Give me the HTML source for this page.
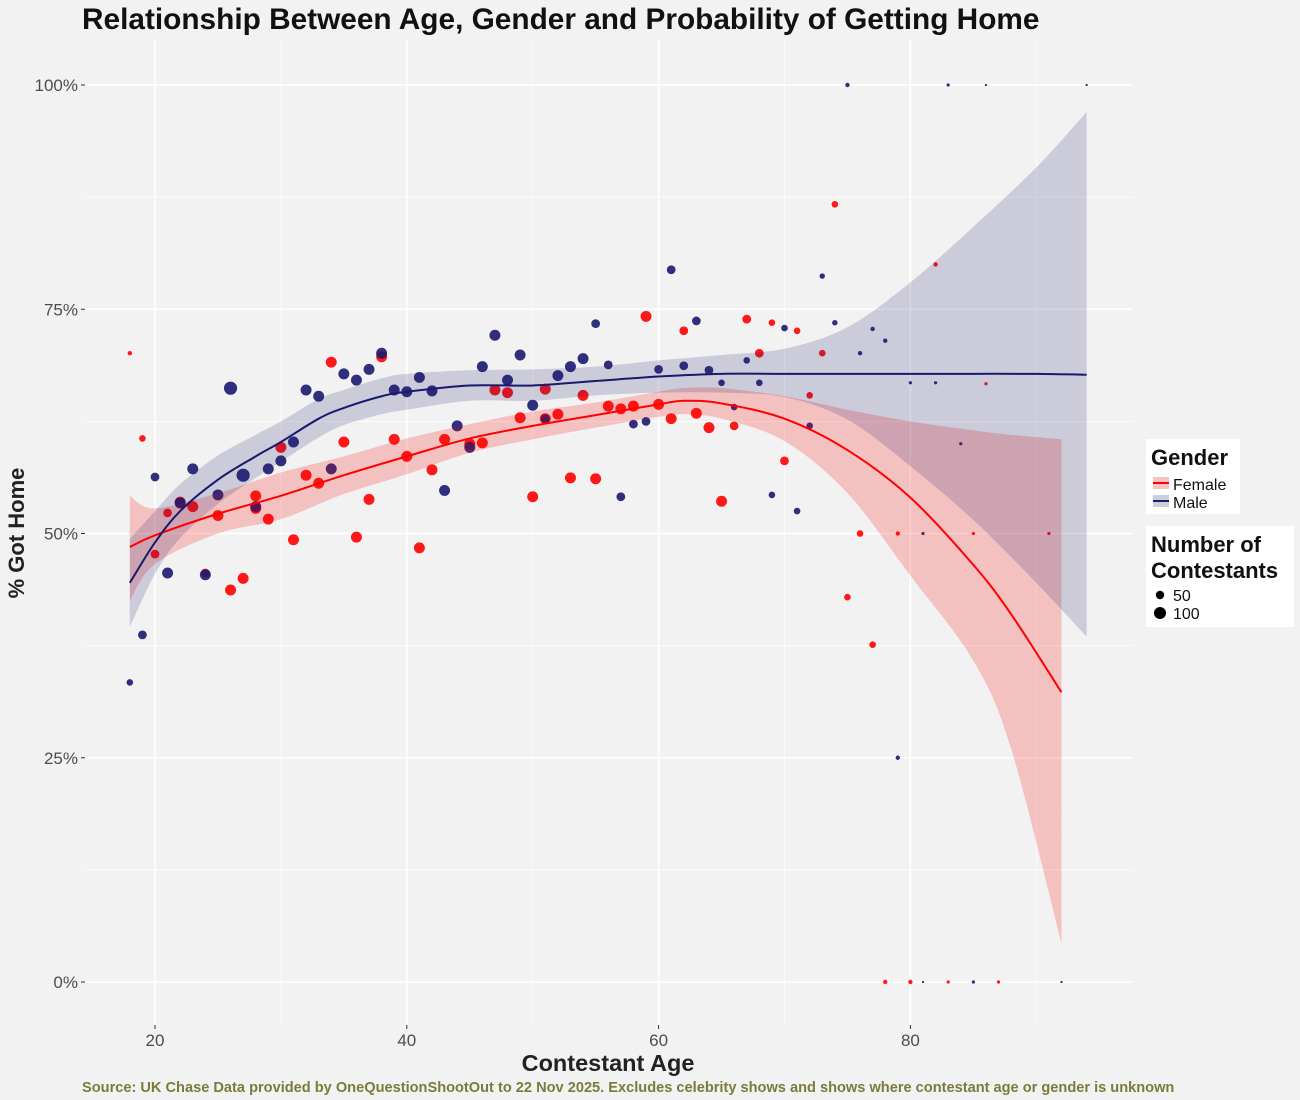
<!DOCTYPE html>
<html><head><meta charset="utf-8"><style>
html,body{margin:0;padding:0;background:#f2f2f2;}
svg{display:block;font-family:"Liberation Sans",Arial,sans-serif;}
</style></head><body>
<svg id="chart" width="1300" height="1100" viewBox="0 0 1300 1100">
<rect width="1300" height="1100" fill="#f2f2f2"/>
<text x="82" y="29" font-size="29.8" font-weight="bold" fill="#111">Relationship Between Age, Gender and Probability of Getting Home</text>
<g id="grid"></g>
<g id="points"></g>
<g id="ribbons"></g>
<g id="lines"></g>
<g id="axes"></g>
<text x="608" y="1071" font-size="23.5" font-weight="bold" text-anchor="middle" fill="#222">Contestant Age</text>
<text transform="translate(24,533) rotate(-90)" font-size="22" font-weight="bold" text-anchor="middle" fill="#222">% Got Home</text>
<text x="82" y="1092" font-size="14.6" font-weight="bold" fill="#7b7b3c">Source: UK Chase Data provided by OneQuestionShootOut to 22 Nov 2025. Excludes celebrity shows and shows where contestant age or gender is unknown</text>
<g>
<rect x="1146" y="439" width="94" height="75" fill="#fff"/>
<text x="1151" y="465" font-size="22" font-weight="bold" fill="#111">Gender</text>
<rect x="1153" y="477" width="16" height="12" fill="#f6c4c4"/><line x1="1153" y1="483" x2="1169" y2="483" stroke="#ff0000" stroke-width="2"/>
<text x="1173" y="490" font-size="16" fill="#111">Female</text>
<rect x="1153" y="495" width="16" height="12" fill="#ccced8"/><line x1="1153" y1="501" x2="1169" y2="501" stroke="#191970" stroke-width="2"/>
<text x="1173" y="508" font-size="16" fill="#111">Male</text>
</g>
<g>
<rect x="1146" y="526" width="148" height="101" fill="#fff"/>
<text x="1151" y="552" font-size="22" font-weight="bold" fill="#111">Number of</text>
<text x="1151" y="578" font-size="22" font-weight="bold" fill="#111">Contestants</text>
<circle cx="1160" cy="595" r="4.2" fill="#000"/><text x="1173" y="601" font-size="16" fill="#111">50</text>
<circle cx="1160" cy="613" r="6" fill="#000"/><text x="1173" y="619" font-size="16" fill="#111">100</text>
</g>
</svg>
<script>
const xTicks=[20,40,60,80];
const xMinor=[30,50,70,90];
const yTicks=[0,25,50,75,100];
const yTickLabels=["0%","25%","50%","75%","100%"];
const yMinor=[12.5,37.5,62.5,87.5];
const femAge=[18,19,20,21,22,23,24,25,26,27,28,28,29,30,31,32,33,34,35,36,37,38,39,40,41,42,43,45,46,47,48,49,50,51,51,52,53,54,55,56,57,58,59,60,61,62,63,64,65,66,67,68,69,70,71,72,73,74,75,76,77,78,79,80,82,83,85,86,87,91];
const femPct=[70.1,60.6,47.7,52.3,53.5,53,45.6,52,43.7,45,54.2,52.8,51.6,59.6,49.3,56.5,55.6,69.1,60.2,49.6,53.8,69.7,60.5,58.6,48.4,57.1,60.5,60,60.1,66,65.7,62.9,54.1,66.1,62.8,63.3,56.2,65.4,56.1,64.2,63.9,64.2,74.2,64.4,62.8,72.6,63.4,61.8,53.6,62,73.9,70.1,73.5,58.1,72.6,65.4,70.1,86.7,42.9,50,37.6,0,50,0,80,0,50,66.7,0,50];
const femN=[11,25,44,44,69,69,44,69,69,69,69,69,69,69,69,69,69,69,69,69,69,69,69,69,69,69,69,69,69,69,69,69,69,69,69,69,69,69,69,69,69,69,69,69,69,44,69,69,69,44,44,44,25,44,25,25,25,25,25,25,25,11,11,11,11,6,6,6,6,6];
const maleAge=[18,19,20,21,22,23,24,25,26,27,28,29,30,31,32,33,34,35,36,37,38,39,40,41,42,43,44,45,46,47,48,49,50,51,52,53,54,55,56,57,58,59,60,61,62,63,64,65,66,67,68,69,70,71,72,73,74,75,76,77,78,79,80,81,81,82,83,84,85,86,92,94];
const malePct=[33.4,38.7,56.3,45.6,53.4,57.2,45.4,54.3,66.2,56.5,53,57.2,58.1,60.2,66,65.3,57.2,67.8,67.1,68.3,70.1,66,65.8,67.4,65.9,54.8,62,59.6,68.6,72.1,67.1,69.9,64.3,62.8,67.6,68.6,69.5,73.4,68.8,54.1,62.2,62.5,68.3,79.4,68.7,73.7,68.2,66.8,64.1,69.3,66.8,54.3,72.9,52.5,62,78.7,73.5,100,70.1,72.8,71.5,25,66.8,50,0,66.8,100,60,0,100,0,100];
const maleN=[25,44,44,69,69,69,69,69,100,100,69,69,69,69,69,69,69,69,69,69,69,69,69,69,69,69,69,69,69,69,69,69,69,44,69,69,69,44,44,44,44,44,44,44,44,44,44,25,25,25,25,25,25,25,25,17,17,11,11,11,11,11,6,6,3,6,6,6,6,3,3,3];
const femSmAge=[18,20,25,30,35,40,45,50,55,60,62,65,70,75,80,85,88,92];
const femFit=[48.5,49.8,52.2,54.2,56.5,58.6,60.6,62,63.2,64.4,64.8,64.5,62.8,59.3,54,46.5,41,32.3];
const femLo=[42.5,46.6,50,51.6,54.4,56.6,59,60.5,61.8,63,63.3,62.8,60.3,54.5,45.3,35.8,26,4.3];
const femHi=[54.2,52.8,54.5,56.8,58.6,60.6,62.2,63.6,64.6,65.8,66.2,66.2,65.3,63.8,62.5,61.5,61,60.5];
const maleSmAge=[18,20,22,25,28,30,33,35,38,40,45,50,55,60,65,70,75,80,85,90,94];
const maleFit=[44.5,49,52.5,56,58.6,60.2,62.8,64,65.3,65.8,66.5,66.5,67,67.5,67.8,67.8,67.8,67.8,67.8,67.8,67.7];
const maleLo=[39.6,45.5,49.5,53.3,56.2,58,60.7,62.1,63.3,63.8,64.8,64.8,65.4,65.7,65.7,65.2,62.7,57.5,51.5,44.5,38.5];
const maleHi=[49.4,52.5,55.5,58.7,61,62.5,65,66,67.3,67.8,68.2,68.3,68.6,69.3,69.9,70.6,73,78,84.2,90.8,97];

const NS="http://www.w3.org/2000/svg";
const X=a=>155+(a-20)*12.59;
const Y=p=>982-p*8.97;
const R=n=>0.66*Math.sqrt(n);
function mk(tag,attrs,parent){const e=document.createElementNS(NS,tag);for(const k in attrs)e.setAttribute(k,attrs[k]);parent.appendChild(e);return e;}
const grid=document.getElementById('grid');
xMinor.forEach(v=>{const l=mk('line',{x1:X(v),x2:X(v),y1:40,y2:1025,stroke:'#fff','stroke-width':0.7},grid);

});
yMinor.forEach(v=>{const l=mk('line',{x1:85,x2:1133,y1:Y(v),y2:Y(v),stroke:'#fff','stroke-width':0.7},grid);

});
xTicks.forEach(v=>{const l=mk('line',{x1:X(v),x2:X(v),y1:40,y2:1025,stroke:'#fff','stroke-width':1.6},grid);

});
yTicks.forEach(v=>{const l=mk('line',{x1:85,x2:1133,y1:Y(v),y2:Y(v),stroke:'#fff','stroke-width':1.6},grid);

});
const axes=document.getElementById('axes');
xTicks.forEach(v=>{mk('line',{x1:X(v),x2:X(v),y1:1025,y2:1029,stroke:'#333'},axes);
const t=mk('text',{x:X(v),y:1046,'font-size':17,'text-anchor':'middle',fill:'#4d4d4d'},axes);t.textContent=v;

});
yTicks.forEach((v,i)=>{mk('line',{x1:81,x2:85,y1:Y(v),y2:Y(v),stroke:'#333'},axes);
const t=mk('text',{x:78,y:Y(v)+6,'font-size':17,'text-anchor':'end',fill:'#4d4d4d'},axes);t.textContent=yTickLabels[i];

});
const pts=document.getElementById('points');
femAge.forEach((a,i)=>{const c=mk('circle',{cx:X(a),cy:Y(femPct[i]),r:R(femN[i]),fill:'#ff0000','fill-opacity':0.9},pts);

});
maleAge.forEach((a,i)=>{const c=mk('circle',{cx:X(a),cy:Y(malePct[i]),r:R(maleN[i]),fill:'#191970','fill-opacity':0.9},pts);

});
function smooth(xs,ys){
 const P=xs.map((a,i)=>[X(a),Y(ys[i])]);let d='';
 for(let i=0;i<P.length-1;i++){const p0=P[i-1]||P[i],p1=P[i],p2=P[i+1],p3=P[i+2]||p2;
 if(i===0)d+='M'+p1[0]+','+p1[1];
 d+=' C'+(p1[0]+(p2[0]-p0[0])/6)+','+(p1[1]+(p2[1]-p0[1])/6)+' '+(p2[0]-(p3[0]-p1[0])/6)+','+(p2[1]-(p3[1]-p1[1])/6)+' '+p2[0]+','+p2[1];}
 return d;}
function ribbon(xs,lo,hi){const up=smooth(xs,hi);const rx=[...xs].reverse(),rl=[...lo].reverse();const dn=smooth(rx,rl).replace('M','L');return up+' '+dn+' Z';}
const rib=document.getElementById('ribbons');
const rf=mk('path',{d:ribbon(femSmAge,femLo,femHi),fill:'#ff0000','fill-opacity':0.2},rib);


const rm=mk('path',{d:ribbon(maleSmAge,maleLo,maleHi),fill:'#191970','fill-opacity':0.18},rib);


const ln=document.getElementById('lines');
const lf=mk('path',{d:smooth(femSmAge,femFit),fill:'none',stroke:'#ff0000','stroke-width':2},ln);


const lm=mk('path',{d:smooth(maleSmAge,maleFit),fill:'none',stroke:'#191970','stroke-width':2},ln);


</script>
</body></html>
